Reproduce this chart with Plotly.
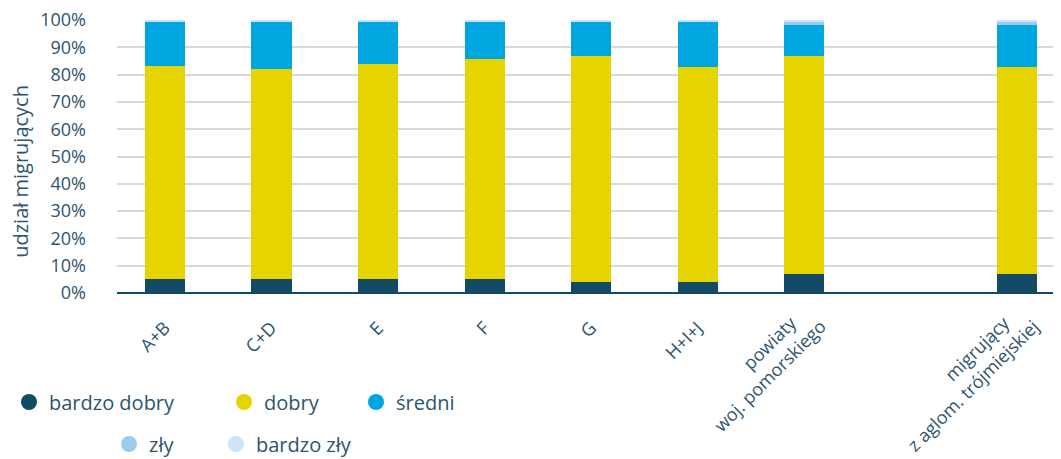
import plotly.graph_objects as go

NB = "\u00a0"
categories = ["A+B", "C+D", "E", "F", "G", "H+I+J",
              "powiaty" + NB * 4 + "<br>woj. pomorskiego", " ",
              "migrujący" + NB * 4 + "<br>z aglom. trójmiejskiej"]
bardzo_dobry = [5.2, 5.2, 5.2, 5.2, 4.2, 4.2, 7.1, None, 7.1]
dobry        = [77.8, 76.7, 78.7, 80.6, 82.7, 78.7, 79.8, None, 75.8]
sredni       = [16.3, 17.4, 15.5, 13.5, 12.4, 16.4, 11.4, None, 15.4]
zly          = [0.2, 0.2, 0.2, 0.2, 0.2, 0.2, 1.0, None, 1.0]
bardzo_zly   = [0.5, 0.5, 0.4, 0.5, 0.5, 0.5, 0.7, None, 0.7]

series_names = ["bardzo dobry", "dobry", "średni", "zły", "bardzo zły"]
series_values = [bardzo_dobry, dobry, sredni, zly, bardzo_zly]
colors = ["#134a66", "#e6d400", "#00a6e0", "#9bcbee", "#cde4f7"]

y_ticks = list(range(0, 101, 10))
y_tick_labels = [f"{v}%" for v in y_ticks]
y_title = "udział migrujących"

single_line = [c for c in categories if "<br>" not in c and c.strip()]
two_line = [c for c in categories if "<br>" in c]

TXT = "#2d5470"
FONT = "Open Sans"
W, H = 1053, 451   # page body has an 8px margin inside the 1061x459 window
XRANGE = [-0.45, 8.41]

fig = go.Figure()
for name, vals, col in zip(series_names, series_values, colors):
    fig.add_trace(go.Bar(x=categories, y=vals, name=name, marker_color=col,
                         marker_line_width=0, width=0.376, showlegend=False))

# empty helper trace so the second (label-only) x axis is drawn
fig.add_trace(go.Scatter(x=categories, y=[None] * len(categories), xaxis="x2",
                         mode="markers", marker=dict(opacity=0),
                         showlegend=False, hoverinfo="skip"))

# legend entries (circle symbols), each in its own legend for placement
legend_pos = [(28, 403), (243, 403), (375, 403), (128, 445), (235, 445)]
for i, (name, col, (cx, cy)) in enumerate(zip(series_names, colors, legend_pos)):
    key = "legend" if i == 0 else f"legend{i+1}"
    fig.add_trace(go.Scatter(x=[None], y=[None], mode="markers", name=name,
                             marker=dict(color=col, size=24, symbol="circle"),
                             showlegend=True, legend=key))
    fig.update_layout({key: dict(x=(cx - 27) / W, y=1 - (cy - 9) / H,
                                 xref="container", yref="container",
                                 xanchor="left", yanchor="middle",
                                 bgcolor="rgba(0,0,0,0)",
                                 font=dict(family=FONT, size=20, color=TXT),
                                 itemsizing="trace")})

fig.add_annotation(text=y_title, textangle=-90, xref="paper", yref="paper",
                   x=-96 / 944, y=0.444, xanchor="center", yanchor="middle",
                   showarrow=False, font=dict(family=FONT, size=20, color=TXT))

fig.update_layout(
    barmode="stack",
    width=W, height=H,
    margin=dict(l=109, r=0, t=12, b=166, autoexpand=False),
    plot_bgcolor="white", paper_bgcolor="white",
    font=dict(family=FONT, color=TXT),
    xaxis=dict(type="category", categoryarray=categories, range=XRANGE,
               tickangle=-45, tickmode="array", tickvals=single_line,
               tickfont=dict(family=FONT, size=18, color=TXT),
               ticklabelstandoff=20, ticklabeloverflow="allow",
               showgrid=False, showline=False, zeroline=False, ticks=""),
    xaxis2=dict(type="category", categoryarray=categories, range=XRANGE,
                overlaying="x", side="bottom", anchor="y",
                tickangle=-45, tickmode="array", tickvals=two_line,
                tickfont=dict(family=FONT, size=18, color=TXT),
                ticklabelstandoff=2, ticklabeloverflow="allow",
                showgrid=False, showline=False, zeroline=False, ticks=""),
    yaxis=dict(range=[0, 100], tickvals=y_ticks, ticktext=y_tick_labels,
               tickfont=dict(family=FONT, size=18, color=TXT),
               showgrid=True, gridcolor="#d9d9d9", gridwidth=1.5,
               zeroline=True, zerolinecolor="#134a66", zerolinewidth=2,
               ticklabelstandoff=30, ticklabeloverflow="allow"),
)

fig.write_html("out.html")
